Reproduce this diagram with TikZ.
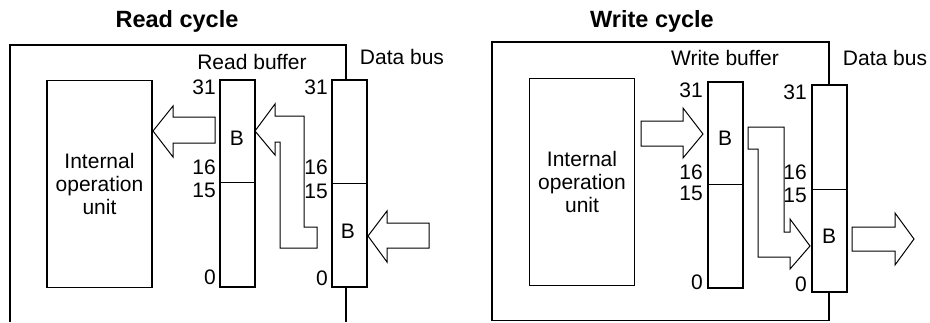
\documentclass[tikz,border=0pt]{standalone}
\usepackage{fontspec}
\setmainfont{Liberation Sans}
\begin{document}
\begin{tikzpicture}[x=1pt,y=-1pt,font=\fontsize{21}{23}\selectfont,
  frame/.style={line width=1.6pt},
  reg/.style={draw,line width=1.6pt,fill=white,minimum width=35pt,inner sep=0pt},
  unit/.style={draw,line width=1.6pt,minimum width=105pt,minimum height=207pt,align=center},
  num/.style={anchor=east,inner sep=0pt},
  blk/.style={draw,line width=1pt,line join=miter},
  title/.style={anchor=base,font=\fontsize{23.5}{26}\selectfont\bfseries}]
\useasboundingbox (0,0) rectangle (930,322);
% Read cycle
\node[title] (rtitle) at (177,27) {Read cycle};
\draw[frame] (10,322) -- (10,45) -- (346,45) -- (346,322);
\node[unit] (runit) at (99.5,184) {Internal\\operation\\unit};
\node[reg,minimum height=207pt] (rbuf) at (237.5,183.5) {};
\node[reg,minimum height=207pt] (rbus) at (349.5,183.5) {};
\draw[line width=1pt] (rbuf.west |- 0,182) -- (rbuf.east |- 0,182);
\draw[line width=1pt] (rbus.west |- 0,183) -- (rbus.east |- 0,183);
\node (rbuflabel) at (252,62) {Read buffer};
\node (rbuslabel) at (402,57) {Data bus};
\node[num] (rbuf31) at (216,87) {31};
\node[num] (rbuf16) at (216,167) {16};
\node[num] (rbuf15) at (216,190) {15};
\node[num] (rbuf0) at (216,277) {0};
\node[num] (rbus31) at (328,87) {31};
\node[num] (rbus16) at (328,167) {16};
\node[num] (rbus15) at (328,191) {15};
\node[num] (rbus0) at (328,278) {0};
\node (rbufB) at (237,138) {B};
\node (rbusB) at (348,231) {B};
\draw[blk] (153,131) -- (173,106) -- (173,117) -- (215,117) -- (215,143) -- (173,143) -- (173,157) -- cycle;
\draw[blk] (255,131) -- (275,104) -- (275,116) -- (304,116) -- (304,227) -- (317,227) -- (317,248) -- (280,248) -- (280,142) -- (275,142) -- (275,155) -- cycle;
\draw[blk] (368,236) -- (387,211) -- (387,223) -- (429,223) -- (429,248) -- (387,248) -- (387,262) -- cycle;
% Write cycle
\node[title] (wtitle) at (652,27) {Write cycle};
\draw[frame] (492,42) rectangle (829,320.5);
\node[unit] (wunit) at (582,182) {Internal\\operation\\unit};
\node[reg,minimum height=206pt] (wbuf) at (725.5,185) {};
\node[reg,minimum height=207pt] (wbus) at (829.5,188.5) {};
\draw[line width=1pt] (wbuf.west |- 0,184) -- (wbuf.east |- 0,184);
\draw[line width=1pt] (wbus.west |- 0,189) -- (wbus.east |- 0,189);
\node (wbuflabel) at (725,58) {Write buffer};
\node (wbuslabel) at (885,58) {Data bus};
\node[num] (wbuf31) at (703,90) {31};
\node[num] (wbuf16) at (703,172) {16};
\node[num] (wbuf15) at (703,193) {15};
\node[num] (wbuf0) at (703,282) {0};
\node[num] (wbus31) at (807,92) {31};
\node[num] (wbus16) at (807,172) {16};
\node[num] (wbus15) at (807,195) {15};
\node[num] (wbus0) at (807,284) {0};
\node (wbufB) at (725,138) {B};
\node (wbusB) at (829,236) {B};
\draw[blk] (641,121) -- (683,121) -- (683,108) -- (703,134) -- (683,158) -- (683,146) -- (641,146) -- cycle;
\draw[blk] (748,127) -- (784,127) -- (784,232) -- (790,232) -- (790,219) -- (810,246) -- (790,269) -- (790,257) -- (758,257) -- (758,149) -- (748,149) -- cycle;
\draw[blk] (852,227) -- (895,227) -- (895,213) -- (914,239) -- (895,265) -- (895,251) -- (852,251) -- cycle;
\end{tikzpicture}
\end{document}
